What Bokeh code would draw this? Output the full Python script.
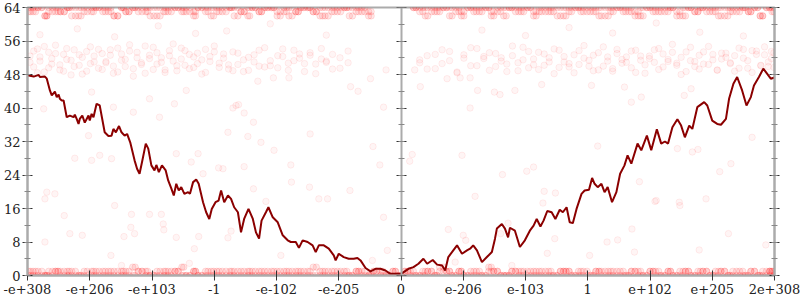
from bokeh.plotting import figure
from bokeh.models import (LinearAxis, FixedTicker, SingleIntervalTicker, Range1d,
                          CustomJSTickFormatter)
from bokeh.embed import file_html
from bokeh.resources import INLINE

# ---------------- data ----------------
TICK_POS = [-6, -5, -4, -3, -2, -1, 0, 1, 2, 3, 4, 5, 6]
TICK_LABELS = ["-e+308", "-e+206", "-e+103", "-1", "-e-102", "-e-205", "0",
               "e-206", "e-103", "1", "e+102", "e+205", "2e+308"]
Y_TICK_STEP = 8

LINE_X = [-6.00, -5.90, -5.82, -5.80, -5.72, -5.69, -5.64, -5.61, -5.56, -5.53,
          -5.50, -5.48, -5.45, -5.42, -5.37, -5.32, -5.26, -5.24, -5.21, -5.18,
          -5.16, -5.12, -5.08, -5.02, -5.00, -4.97, -4.94, -4.89, -4.84, -4.76,
          -4.70, -4.65, -4.62, -4.58, -4.53, -4.49, -4.44, -4.40, -4.35, -4.28,
          -4.24, -4.20, -4.16, -4.10, -4.06, -4.01, -3.96, -3.93, -3.89, -3.84,
          -3.78, -3.74, -3.69, -3.65, -3.61, -3.57, -3.53, -3.48, -3.42, -3.39,
          -3.34, -3.29, -3.25, -3.18, -3.13, -3.08, -3.04, -2.98, -2.93, -2.89,
          -2.84, -2.78, -2.73, -2.68, -2.62, -2.57, -2.52, -2.45, -2.38, -2.33,
          -2.28, -2.24, -2.17, -2.13, -2.06, -1.98, -1.90, -1.82, -1.77, -1.69,
          -1.64, -1.58, -1.50, -1.42, -1.37, -1.32, -1.24, -1.16, -1.08, -1.05,
          -1.00, -0.92, -0.84, -0.76, -0.70, -0.65, -0.57, -0.49, -0.41, -0.33,
          -0.25, -0.17, -0.04, 0.00,
          0.12, 0.20, 0.28, 0.36, 0.42, 0.51, 0.58, 0.66, 0.71, 0.76,
          0.84, 0.90, 0.98, 1.06, 1.11, 1.16, 1.22, 1.30, 1.38, 1.46,
          1.51, 1.54, 1.62, 1.67, 1.72, 1.75, 1.83, 1.91, 1.99, 2.07,
          2.13, 2.18, 2.24, 2.29, 2.35, 2.42, 2.48, 2.55, 2.60, 2.66,
          2.71, 2.76, 2.82, 2.90, 2.95, 3.02, 3.07, 3.11, 3.16, 3.22,
          3.27, 3.32, 3.39, 3.46, 3.52, 3.59, 3.64, 3.70, 3.80, 3.86,
          3.95, 4.02, 4.11, 4.18, 4.24, 4.29, 4.36, 4.44, 4.50, 4.56,
          4.63, 4.68, 4.76, 4.87, 4.92, 5.00, 5.08, 5.14, 5.22, 5.27,
          5.34, 5.40, 5.48, 5.55, 5.62, 5.67, 5.75, 5.82, 5.88, 5.94, 6.00]
LINE_Y = [47.8, 47.5, 47.9, 47.4, 47.5, 47.0, 44.2, 43.0, 43.9, 42.6,
          43.2, 42.2, 41.8, 41.8, 37.8, 38.2, 37.8, 38.4, 37.4, 36.2,
          37.4, 38.2, 36.5, 38.2, 37.0, 38.6, 37.8, 41.0, 40.6, 34.2,
          33.3, 33.4, 35.0, 34.2, 35.7, 34.2, 33.4, 33.8, 31.8, 27.5,
          25.5, 24.3, 27.1, 31.5, 30.3, 26.3, 25.1, 26.4, 24.7, 26.3,
          25.1, 22.7, 20.8, 19.1, 21.9, 20.3, 21.1, 19.5, 19.9, 19.5,
          22.3, 22.9, 21.9, 17.5, 15.1, 13.5, 15.9, 17.5, 17.9, 20.3,
          17.5, 19.1, 18.3, 16.3, 15.1, 10.3, 13.5, 15.9, 13.5, 10.3,
          8.8, 13.1, 15.1, 16.3, 13.9, 12.7, 9.6, 8.4, 8.0, 8.0,
          6.6, 8.4, 8.0, 7.2, 5.6, 7.2, 7.2, 6.4, 4.8, 3.6,
          5.2, 4.4, 4.0, 4.0, 4.2, 3.6, 1.8, 1.0, 1.6, 1.6,
          1.2, 0.4, 0.4, 0.4,
          1.6, 2.0, 2.8, 4.0, 2.8, 3.7, 2.6, 2.4, 1.2, 4.4,
          6.0, 7.2, 5.2, 6.0, 6.4, 7.2, 6.0, 3.2, 4.4, 5.6,
          8.8, 11.2, 12.3, 11.2, 9.1, 11.4, 10.7, 6.8, 8.4, 10.7,
          11.9, 13.5, 11.7, 13.1, 15.4, 15.1, 13.5, 15.7, 15.1, 16.3,
          12.7, 12.5, 15.9, 19.5, 20.3, 20.5, 23.3, 21.9, 21.1, 21.9,
          19.9, 21.1, 17.5, 19.9, 24.3, 26.3, 28.7, 26.7, 31.5, 29.9,
          33.4, 29.9, 34.9, 31.5, 32.0, 31.5, 35.4, 37.3, 35.8, 33.0,
          35.8, 35.0, 40.2, 41.4, 40.6, 37.0, 36.2, 36.0, 37.4, 42.2,
          45.8, 47.4, 44.2, 40.6, 42.6, 45.4, 47.4, 49.4, 48.2, 47.0, 47.3]

# samples at the top (62-64)
TOP_X1 = [-5.98, -5.91, -5.83, -5.72, -5.66, -5.55, -5.47, -5.36, -5.29, -5.18,
          -5.09, -4.97, -4.90, -4.79, -4.70, -4.61, -4.49, -4.42, -4.31, -4.22,
          -4.10, -4.03, -3.92, -3.81, -3.74, -3.63, -3.52, -3.45, -3.33, -3.26,
          -3.14, -3.05, -2.96, -2.87, -2.75, -2.68, -2.57, -2.46, -2.39, -2.28,
          -2.19, -2.08, -1.99, -1.88, -1.80, -1.69, -1.61, -1.50, -1.41, -1.30,
          -1.22, -1.11, -1.02, -0.91, -0.83, -0.72, -0.63, -0.52, 0.24, 0.35,
          0.43, 0.54, 0.62, 0.73, 0.82, 0.93, 1.01, 1.12, 1.21, 1.30,
          1.41, 1.49, 1.60, 1.69, 1.78, 1.89, 1.97, 2.08, 2.17, 2.26,
          2.37, 2.45, 2.56, 2.65, 2.74, 2.85, 2.93, 3.04, 3.13, 3.22,
          3.33, 3.41, 3.52, 3.61, 3.70, 3.81, 3.89, 4.00, 4.09, 4.18,
          4.29, 4.37, 4.48, 4.57, 4.66, 4.77, 4.85, 4.96, 5.05, 5.14,
          5.25, 5.33, 5.44, 5.53, 5.62, 5.73, 5.81, 5.92, 5.99]
TOP_X2 = [-5.95, -5.87, -5.77, -5.69, -5.60, -5.51, -5.41, -5.33, -5.23, -5.14,
          -5.04, -4.94, -4.85, -4.75, -4.66, -4.55, -4.46, -4.37, -4.27, -4.16,
          -4.07, -3.97, -3.87, -3.78, -3.69, -3.58, -3.49, -3.39, -3.30, -3.20,
          -3.10, -3.01, -2.92, -2.81, -2.72, -2.62, -2.52, -2.43, -2.34, -2.24,
          -2.14, -2.04, -1.94, -1.84, -1.75, -1.65, -1.56, -1.46, -1.36, -1.26,
          -1.17, -1.07, -0.97, -0.87, -0.78, -0.68, -0.58, -0.48, 0.20, 0.30,
          0.39, 0.49, 0.58, 0.68, 0.78, 0.88, 0.97, 1.07, 1.17, 1.26,
          1.36, 1.45, 1.55, 1.65, 1.74, 1.84, 1.93, 2.03, 2.13, 2.22,
          2.32, 2.41, 2.51, 2.61, 2.70, 2.80, 2.89, 2.99, 3.09, 3.18,
          3.28, 3.37, 3.47, 3.57, 3.66, 3.76, 3.85, 3.95, 4.05, 4.14,
          4.24, 4.33, 4.43, 4.53, 4.62, 4.72, 4.81, 4.91, 5.01, 5.10,
          5.20, 5.29, 5.39, 5.49, 5.58, 5.68, 5.77, 5.87, 5.96]
TOP_Y1 = [64, 63, 64, 62, 64, 63, 63, 64, 64, 62, 63, 64, 64, 63, 64, 62, 64, 63, 64, 64,
          63, 64, 62, 64, 63, 64, 64, 63, 63, 64, 64, 62, 64, 63, 64, 64, 63, 62, 64, 63,
          64, 64, 63, 64, 62, 63, 64, 64, 63, 64, 62, 64, 63, 64, 64, 63, 64, 62, 64, 63,
          64, 63, 64, 64, 62, 64, 63, 64, 63, 64, 64, 62, 63, 64, 64, 63, 64, 64, 62, 63,
          64, 63, 64, 62, 64, 64, 63, 64, 63, 64, 62, 64, 64, 63, 64, 63, 62, 64, 64, 63,
          64, 64, 63, 62, 64, 63, 64, 64, 63, 64, 62, 63, 64, 64, 63, 64, 62, 64, 63]
TOP_Y2 = [63, 64, 64, 62, 63, 64, 63, 64, 62, 64, 64, 63, 64, 64, 63, 62, 64, 63, 64, 63,
          64, 62, 64, 63, 64, 64, 63, 64, 62, 64, 63, 64, 63, 64, 64, 62, 63, 64, 64, 63,
          64, 64, 62, 63, 64, 63, 64, 64, 63, 62, 64, 63, 64, 64, 62, 64, 63, 63, 64, 64,
          62, 64, 63, 64, 64, 63, 62, 64, 64, 63, 64, 63, 64, 62, 64, 64, 63, 64, 63, 64,
          63, 64, 62, 64, 63, 64, 64, 63, 64, 62, 64, 63, 64, 64, 63, 62, 64, 64, 63, 64,
          63, 64, 62, 64, 64, 63, 64, 63, 64, 62, 64, 64, 63, 64, 63, 64, 62, 64, 64]

# samples at zero (0-1)
BOT_X1 = [-5.98, -5.91, -5.83, -5.72, -5.66, -5.55, -5.47, -5.36, -5.29, -5.18,
          -5.09, -4.97, -4.90, -4.79, -4.70, -4.61, -4.49, -4.42, -4.31, -4.22,
          -4.10, -4.03, -3.92, -3.81, -3.74, -3.63, -3.52, -3.45, -3.33, -3.26,
          -3.14, -3.05, -2.96, -2.87, -2.75, -2.68, -2.57, -2.46, -2.39, -2.28,
          -2.19, -2.08, -1.99, -1.88, -1.80, -1.69, -1.61, -1.50, -1.41, -1.30,
          -1.22, -1.11, -1.02, -0.91, -0.83, -0.72, -0.63, -0.52, -0.44, -0.33,
          -0.24, -0.13, -0.05, 0.06, 0.15, 0.24, 0.35, 0.43, 0.54, 0.62,
          0.73, 0.82, 0.93, 1.01, 1.12, 1.21, 1.30, 1.41, 1.49, 1.60,
          1.69, 1.78, 1.89, 1.97, 2.08, 2.17, 2.26, 2.37, 2.45, 2.56,
          2.65, 2.74, 2.85, 2.93, 3.04, 3.13, 3.22, 3.33, 3.41, 3.52,
          3.61, 3.70, 3.81, 3.89, 4.00, 4.09, 4.18, 4.29, 4.37, 4.48,
          4.57, 4.66, 4.77, 4.85, 4.96, 5.05, 5.14, 5.25, 5.33, 5.44,
          5.53, 5.62, 5.73, 5.81, 5.92, 5.99]
BOT_X2 = [-5.95, -5.87, -5.77, -5.69, -5.60, -5.51, -5.41, -5.33, -5.23, -5.14,
          -5.04, -4.94, -4.85, -4.75, -4.66, -4.55, -4.46, -4.37, -4.27, -4.16,
          -4.07, -3.97, -3.87, -3.78, -3.69, -3.58, -3.49, -3.39, -3.30, -3.20,
          -3.10, -3.01, -2.92, -2.81, -2.72, -2.62, -2.52, -2.43, -2.34, -2.24,
          -2.14, -2.04, -1.94, -1.84, -1.75, -1.65, -1.56, -1.46, -1.36, -1.26,
          -1.17, -1.07, -0.97, -0.87, -0.78, -0.68, -0.58, -0.48, -0.39, -0.29,
          -0.19, -0.09, 0.01, 0.11, 0.20, 0.30, 0.39, 0.49, 0.58, 0.68,
          0.78, 0.88, 0.97, 1.07, 1.17, 1.26, 1.36, 1.45, 1.55, 1.65,
          1.74, 1.84, 1.93, 2.03, 2.13, 2.22, 2.32, 2.41, 2.51, 2.61,
          2.70, 2.80, 2.89, 2.99, 3.09, 3.18, 3.28, 3.37, 3.47, 3.57,
          3.66, 3.76, 3.85, 3.95, 4.05, 4.14, 4.24, 4.33, 4.43, 4.53,
          4.62, 4.72, 4.81, 4.91, 5.01, 5.10, 5.20, 5.29, 5.39, 5.49,
          5.58, 5.68, 5.77, 5.87, 5.96, 5.93]
BOT_Y1 = [0, 1, 0, 0, 1, 1, 0, 1, 0, 0, 1, 0, 1, 1, 0, 0, 1, 0, 2, 1,
          0, 0, 1, 0, 1, 1, 0, 0, 1, 0, 1, 0, 0, 1, 1, 0, 1, 0, 0, 1,
          0, 1, 1, 0, 0, 1, 0, 1, 2, 0, 1, 0, 0, 1, 0, 1, 1, 0, 1, 0,
          0, 1, 0, 1, 1, 0, 0, 1, 0, 1, 1, 0, 1, 0, 0, 1, 0, 2, 1, 0,
          0, 1, 1, 0, 1, 0, 0, 1, 0, 1, 1, 0, 0, 1, 0, 1, 1, 0, 0, 1,
          0, 1, 0, 0, 1, 1, 0, 1, 0, 0, 1, 0, 1, 1, 0, 0, 1, 0, 1, 0,
          0, 1, 0, 1, 1, 0]
BOT_Y2 = [1, 0, 1, 0, 0, 1, 1, 0, 1, 0, 0, 1, 0, 0, 1, 1, 0, 1, 0, 1,
          1, 0, 0, 1, 0, 1, 2, 0, 1, 0, 0, 1, 1, 0, 0, 1, 0, 1, 1, 0,
          1, 0, 0, 1, 1, 0, 1, 0, 0, 1, 0, 1, 1, 0, 0, 1, 0, 0, 1, 1,
          0, 1, 0, 1, 0, 0, 1, 1, 0, 2, 1, 0, 1, 0, 1, 0, 0, 1, 1, 0,
          0, 1, 0, 1, 0, 1, 1, 0, 0, 1, 1, 0, 1, 0, 0, 1, 0, 1, 1, 0,
          0, 1, 1, 0, 1, 0, 0, 1, 0, 1, 1, 0, 0, 1, 0, 1, 1, 0, 0, 1,
          0, 1, 0, 0, 1, 1]

# samples in the 48-56 band
MID_X = [-5.96, -5.90, -5.84, -5.80, -5.73, -5.66, -5.61, -5.55, -5.48, -5.42,
         -5.37, -5.30, -5.25, -5.17, -5.12, -5.05, -4.99, -4.93, -4.86, -4.80,
         -4.74, -4.67, -4.62, -4.55, -4.49, -4.43, -4.36, -4.30, -4.24, -4.17,
         -4.11, -4.04, -3.98, -3.92, -3.85, -3.79, -3.72, -3.66, -3.60, -3.53,
         -3.47, -3.40, -3.33, -3.27, -3.20, -3.14, -3.07, -3.00, -2.92, -2.85,
         -2.77, -2.70, -2.62, -2.53, -2.45, -2.36, -2.28, -2.19, -2.10, -1.98,
         -1.90, -1.81, -1.72, -1.63, -1.55, -1.46, -1.37, -1.28, -1.20, -1.10,
         -0.98, -0.85,
         0.30, 0.42, 0.55, 0.66, 0.78, 0.90, 1.01, 1.12, 1.22, 1.33,
         1.42, 1.52, 1.61, 1.70, 1.79, 1.88, 1.96, 2.05, 2.13, 2.21,
         2.30, 2.38, 2.46, 2.54, 2.62, 2.70, 2.78, 2.86, 2.94, 3.02,
         3.09, 3.17, 3.25, 3.32, 3.40, 3.47, 3.55, 3.62, 3.70, 3.77,
         3.85, 3.92, 3.99, 4.07, 4.14, 4.21, 4.29, 4.36, 4.43, 4.50,
         4.58, 4.65, 4.72, 4.79, 4.86, 4.94, 5.01, 5.08, 5.15, 5.22,
         5.29, 5.36, 5.43, 5.50, 5.57, 5.64, 5.71, 5.78, 5.84, 5.90,
         5.95, 5.99]
MID_Y = [52.4, 49.8, 54.1, 51.2, 48.6, 53.3, 50.5, 55.0, 49.1, 52.8,
         51.6, 47.9, 53.9, 50.2, 52.1, 48.8, 54.6, 51.0, 49.5, 53.0,
         50.8, 52.6, 48.3, 54.3, 51.4, 49.9, 53.6, 47.6, 52.0, 50.4,
         54.8, 51.8, 49.2, 53.2, 50.9, 48.5, 52.5, 55.3, 50.1, 51.7,
         53.7, 49.4, 52.2, 50.6, 48.1, 54.0, 51.1, 53.4, 49.7, 52.9,
         50.3, 48.9, 53.1, 51.5, 49.0, 52.7, 50.0, 54.4, 51.3, 49.6,
         52.3, 50.7, 53.8, 51.9, 48.7, 52.6, 50.5, 54.2, 51.2, 49.3,
         52.0, 50.8,
         51.5, 49.3, 52.8, 50.6, 53.5, 48.4, 51.9, 50.1, 54.2, 52.3,
         49.0, 53.0, 51.2, 48.7, 52.5, 50.8, 54.5, 49.6, 51.7, 53.3,
         50.2, 52.0, 48.2, 53.8, 51.0, 49.8, 52.7, 50.4, 54.9, 51.4,
         48.9, 53.2, 50.0, 52.2, 49.4, 54.0, 51.6, 50.9, 53.6, 48.5,
         52.4, 50.3, 51.8, 53.9, 49.2, 52.9, 51.1, 55.2, 50.7, 48.0,
         53.4, 51.3, 49.9, 52.6, 50.5, 54.7, 51.5, 49.1, 53.1, 52.1,
         50.6, 48.8, 54.3, 51.9, 49.5, 53.7, 52.8, 50.2, 54.6, 51.0,
         53.5, 49.7]
MID_Y2 = [50.9, 53.6, 48.4, 52.2, 54.7, 49.6, 51.8, 53.0, 50.3, 48.8,
          54.2, 51.4, 49.9, 52.7, 48.1, 53.5, 50.6, 52.4, 54.0, 49.2,
          51.1, 53.9, 50.0, 48.6, 52.9, 51.6, 55.1, 49.4, 53.3, 50.8,
          48.3, 52.6, 54.5, 50.5, 52.0, 49.1, 53.7, 51.2, 48.9, 54.3,
          50.2, 52.8, 49.7, 53.1, 51.5, 48.5, 52.3, 54.8, 50.7, 51.9,
          49.3, 53.4, 50.4, 48.7, 52.1, 51.0, 53.8, 49.8, 50.1, 52.5,
          54.1, 49.0, 51.3, 52.9, 50.6, 53.2, 48.2, 51.7, 50.9, 52.8,
          49.5, 53.6,
          50.8, 52.5, 49.4, 53.9, 51.3, 48.6, 52.7, 54.4, 50.1, 51.8,
          53.2, 49.9, 52.0, 50.5, 54.8, 48.9, 51.5, 53.5, 50.3, 49.2,
          52.9, 51.0, 54.1, 49.7, 52.3, 50.6, 48.4, 53.7, 51.9, 50.0,
          52.6, 49.1, 54.6, 51.2, 48.8, 53.0, 50.7, 52.2, 49.6, 53.8,
          51.4, 48.3, 52.4, 50.9, 54.2, 49.8, 51.6, 53.3, 50.2, 52.1,
          48.7, 54.5, 51.1, 49.3, 53.4, 50.4, 52.8, 49.0, 51.7, 53.1,
          50.8, 52.5, 49.5, 54.0, 51.3, 48.5, 53.6, 50.1, 52.7, 49.9,
          51.8, 53.2]

# scattered samples elsewhere
SPARSE_X = [-5.72, -5.41, -5.32, -5.12, -4.66, -4.60, -4.49, -4.45, -4.34, -4.33,
            -4.28, -4.04, -3.85, -3.82, -3.81, -3.61, -3.32, -3.40, -3.25,
            -2.65, -2.61, -2.70, -2.52, -2.37, -2.78, -2.46, -2.25, -2.04, -1.46,
            -1.77, -2.52, -2.93, -2.86, -1.76, -1.47, -2.37, -0.82, -0.45, -0.34,
            -0.28, -1.32, -1.18, -2.17, -2.73, -2.78, -1.93, -0.28, -0.22, -0.46,
            0.18, 0.14, 0.98, 1.63, 2.02, 2.13, 1.19, 2.30, 2.48, 2.28,
            0.76, 1.00, 1.04, 1.72, 1.60, 2.47, 2.35, 3.03, 1.78, 0.87,
            3.06, 3.59, 3.86, 3.70, 4.55, 4.66, 4.44, 4.68, 4.77, 3.16,
            5.64, 5.30, 5.12, 3.83, 4.10, 4.90, 4.47,
            3.71, 3.48, 3.31, 3.75, 4.48, 4.08, 5.26, 4.79, 5.86,
            -4.97, -0.81, -0.69, -0.49, -0.24, 0.22, 0.31, 1.11, 1.23, 1.50,
            1.59, 1.83, 2.26, -2.30, -2.05, -1.80, 0.74, 0.95, 1.11,
            -5.80, -5.20, -4.60, -3.90, -3.30, -2.80, -2.10, 2.00, 2.70, 3.40,
            4.10, 4.80, 5.50, -1.20, 1.30,
            -4.62, -4.65, -4.84, -4.97, -5.24, -5.74, -3.88, -3.61, -3.26, -3.18,
            -3.37, -4.04, -3.64, -3.45, -5.69, -5.56, -5.72, -4.30, -5.02]
SPARSE_Y = [8.0, 14.3, 10.0, 9.6, 4.8, 16.7, 2.4, 9.3, 11.5, 14.6,
            10.0, 14.6, 14.6, 12.3, 10.9, 9.1, 6.4, 2.9, 9.3,
            40.6, 40.8, 40.0, 38.8, 36.6, 34.2, 33.2, 31.8, 29.9, 33.8,
            26.4, 26.0, 25.7, 25.5, 22.3, 21.1, 20.7, 20.3, 30.8, 26.4,
            40.2, 18.3, 18.3, 17.7, 10.6, 9.0, 4.8, 13.9, 6.0, 3.6,
            28.9, 27.3, 28.7, 24.1, 24.9, 25.9, 18.9, 20.1, 19.7, 17.3,
            11.0, 9.6, 8.4, 12.5, 10.0, 8.8, 5.3, 4.8, 2.4, 3.2,
            45.4, 45.0, 42.6, 41.4, 43.0, 44.6, 30.3, 29.5, 30.1, 30.9,
            33.0, 26.7, 24.8, 22.4, 17.9, 18.3, 17.5,
            11.1, 8.5, 8.0, 5.6, 16.7, 17.7, 10.0, 6.1, 7.3,
            43.8, 45.1, 44.0, 47.0, 49.1, 49.1, 45.1, 40.0, 44.2, 43.8,
            43.2, 44.2, 45.6, 46.4, 47.2, 47.2, 47.0, 47.2, 47.2,
            57.5, 58.9, 57.0, 59.6, 57.8, 58.4, 60.1, 57.3, 59.2, 57.9,
            60.3, 58.1, 57.2, 57.4, 58.6,
            40.2, 27.9, 28.7, 27.5, 28.0, 39.8, 37.8, 29.1, 29.1, 24.3,
            27.1, 42.2, 41.0, 44.2, 19.9, 19.5, 18.3, 39.0, 33.4]

# ---------------- figure ----------------
FONT = "DejaVu Serif"
AXIS_GREY = "#ababab"

p = figure(width=800, height=300, output_backend="svg", toolbar_location=None,
           x_range=Range1d(TICK_POS[0], TICK_POS[-1]), y_range=Range1d(0, 64),
           min_border_left=24, min_border_right=26, min_border_top=7,
           min_border_bottom=25, background_fill_color="white",
           border_fill_color="white")
p.grid.visible = False
p.outline_line_color = AXIS_GREY
p.outline_line_width = 2


def style_axis(ax, minor=True):
    ax.axis_line_color = AXIS_GREY
    ax.axis_line_width = 2
    ax.major_tick_line_color = "#333333"
    ax.major_tick_line_width = 1
    ax.major_tick_in = 5
    ax.major_tick_out = 5
    ax.minor_tick_line_color = "#888888"
    ax.minor_tick_line_width = 1
    ax.minor_tick_in = 3 if minor else 0
    ax.minor_tick_out = 3 if minor else 0
    ax.major_label_text_font = FONT
    ax.major_label_text_font_size = "13px"
    ax.major_label_text_color = "#222222"


# bottom axis
xax = p.xaxis[0]
xax.ticker = FixedTicker(ticks=TICK_POS, minor_ticks=[])
xax.major_label_overrides = {t: lab for t, lab in zip(TICK_POS, TICK_LABELS)}
style_axis(xax, minor=False)
xax.major_label_standoff = 3

# left axis
yax = p.yaxis[0]
yax.ticker = SingleIntervalTicker(interval=Y_TICK_STEP, num_minor_ticks=2)
style_axis(yax)
yax.major_label_standoff = 2

blank = CustomJSTickFormatter(code="return ''")

# right axis (no labels)
rax = LinearAxis(ticker=SingleIntervalTicker(interval=Y_TICK_STEP, num_minor_ticks=2),
                 formatter=blank)
style_axis(rax)
rax.major_label_standoff = 0
p.add_layout(rax, "right")

# middle axis at x = 0 (no labels)
max_ = LinearAxis(ticker=SingleIntervalTicker(interval=Y_TICK_STEP, num_minor_ticks=2),
                  formatter=blank, fixed_location=0)
style_axis(max_)
max_.major_label_standoff = 0
p.add_layout(max_, "left")


def add_points(xs, ys, fa, la):
    pairs = list(zip(xs, ys))
    p.scatter([a for a, _ in pairs], [b for _, b in pairs], size=6.5,
              fill_color="#ff0000", fill_alpha=fa,
              line_color="#ff0000", line_alpha=la, line_width=1)


# dense bands (samples stack on the same values)
for xs, ys in [(TOP_X1, TOP_Y1), (TOP_X2, TOP_Y2), (TOP_X1, TOP_Y2), (TOP_X2, TOP_Y1),
               (BOT_X1, BOT_Y1), (BOT_X2, BOT_Y2), (BOT_X1, BOT_Y2), (BOT_X2, BOT_Y1)]:
    add_points(xs, ys, 0.085, 0.11)
# looser samples
for xs, ys in [(MID_X, MID_Y), (MID_X, MID_Y2), (SPARSE_X, SPARSE_Y)]:
    add_points(xs, ys, 0.04, 0.065)

# line
p.line(LINE_X, LINE_Y, line_color="#8b0000", line_width=2)

open("out.html", "w").write(file_html(p, INLINE))
